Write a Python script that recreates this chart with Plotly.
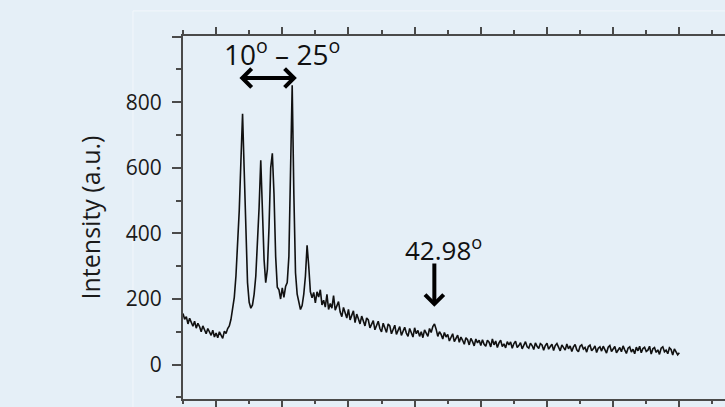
import plotly.graph_objects as go

# XRD intensity, 2-theta grid from 5 deg to 80 deg in 0.25 deg steps
intensity = [
    156, 138, 146, 124, 141, 130, 117, 132,   # 5.00 - 6.75
    111, 126, 116, 100, 118, 106, 94, 110,    # 7.00 - 8.75
    99, 89, 105, 84, 96, 82, 100, 90,         # 9.00 - 10.75
    80, 102, 95, 110, 118, 138, 170, 205,     # 11.00 - 12.75
    270, 360, 470, 620, 765, 590, 380, 250,   # 13.00 - 14.75
    190, 172, 182, 215, 270, 360, 480, 623,   # 15.00 - 16.75
    480, 320, 250, 290, 420, 600, 644, 520,   # 17.00 - 18.75
    330, 236, 228, 200, 234, 205, 238, 250,   # 19.00 - 20.75
    330, 560, 852, 520, 280, 215, 185, 168,   # 21.00 - 22.75
    180, 215, 270, 364, 300, 222, 204, 220,   # 23.00 - 24.75
    188, 222, 206, 228, 182, 196, 175, 214,   # 25.00 - 26.75
    168, 186, 172, 210, 166, 178, 192, 160,   # 27.00 - 28.75
    146, 174, 158, 142, 168, 136, 150, 164,   # 29.00 - 30.75
    128, 154, 140, 124, 148, 130, 118, 142,   # 31.00 - 32.75
    136, 112, 122, 134, 106, 120, 132, 110,   # 33.00 - 34.75
    100, 126, 112, 98, 124, 118, 94, 108,     # 35.00 - 36.75
    120, 92, 104, 116, 89, 100, 114, 96,      # 37.00 - 38.75
    86, 110, 98, 84, 112, 94, 104, 86,        # 39.00 - 40.75
    100, 82, 106, 94, 86, 110, 98, 116,       # 41.00 - 42.75
    124, 108, 86, 100, 92, 78, 98, 84,        # 43.00 - 44.75
    92, 72, 86, 94, 70, 80, 90, 68,           # 45.00 - 46.75
    84, 74, 62, 82, 76, 60, 80, 70,           # 47.00 - 48.75
    57, 78, 66, 74, 58,                       # 49.00 - 50.00
    76, 62, 56, 74, 68, 54, 78, 60,           # 50.25 - 52.00
    72, 52, 66, 74, 55, 63, 51, 70,           # 52.25 - 54.00
    60, 69, 50, 64, 71, 52, 58, 67,           # 54.25 - 56.00
    48, 62, 70, 54, 50, 65, 58, 46,           # 56.25 - 58.00
    66, 56, 49, 64, 60, 44, 58, 65,           # 58.25 - 60.00
    47, 55, 62, 43, 58, 64, 50, 42,           # 60.25 - 62.00
    60, 52, 44, 63, 48, 57, 40, 54,           # 62.25 - 64.00
    61, 45, 39, 56, 60, 47, 52, 38,           # 64.25 - 66.00
    55, 59, 42, 48, 57, 37, 50, 54,           # 66.25 - 68.00
    41, 56, 46, 35, 53, 58, 40, 47,           # 68.25 - 70.00
    55, 36, 44, 52, 39, 57, 45, 34,           # 70.25 - 72.00
    50, 54, 38, 47, 33, 53, 42, 56,           # 72.25 - 74.00
    36, 49, 53, 40, 44, 56, 32, 48,           # 74.25 - 76.00
    52, 37, 45, 31, 50, 54, 39, 44,           # 76.25 - 78.00
    33, 51, 46, 29, 48, 40, 30, 36,           # 78.25 - 80.00
]
two_theta = [5 + 0.25 * i for i in range(len(intensity))]

y_tick_vals = [0, 200, 400, 600, 800, 1000]
y_tick_text = ["0", "200", "400", "600", "800", ""]

range_label = "10<sup>o</sup> – 25<sup>o</sup>"
range_start, range_end = 13.3, 22.2
range_arrow_y = 874
peak_label = "42.98<sup>o</sup>"
peak_pos = 42.98

BG = "#e5eff7"
AX = "#4a4a4a"
FONT = "Open Sans"

fig = go.Figure()
fig.add_trace(go.Scatter(x=two_theta, y=intensity, mode="lines",
                         line=dict(color="#111111", width=1.6), showlegend=False,
                         hoverinfo="skip"))
fig.add_trace(go.Scatter(x=[two_theta[0]], y=[intensity[0]], xaxis="x2", mode="markers",
                         marker=dict(opacity=0), showlegend=False, hoverinfo="skip"))

xcommon = dict(range=[5, 86.9], showline=True, linecolor=AX, linewidth=2,
               ticks="outside", tickcolor=AX, tickwidth=2, dtick=10, tick0=0,
               showticklabels=False, showgrid=False, zeroline=False)

fig.update_layout(
    width=725, height=407,
    margin=dict(l=183, r=0, t=36, b=8),
    paper_bgcolor=BG, plot_bgcolor=BG,
    font=dict(family=FONT, color="#1a1a1a"),
    xaxis=dict(**xcommon, ticklen=6,
               minor=dict(dtick=5, tick0=0, ticklen=3, tickwidth=2, tickcolor=AX,
                          ticks="outside", showgrid=False)),
    xaxis2=dict(**xcommon, overlaying="x", side="top", ticklen=7,
                minor=dict(dtick=5, tick0=0, ticklen=4, tickwidth=2, tickcolor=AX,
                           ticks="outside", showgrid=False)),
    yaxis=dict(range=[-105, 1002], showline=True, linecolor=AX, linewidth=2,
               ticks="outside", tickcolor=AX, tickwidth=2, ticklen=9,
               tickvals=y_tick_vals, ticktext=y_tick_text,
               tickfont=dict(size=21, family=FONT, color="#1a1a1a"),
               ticklabelstandoff=6,
               minor=dict(dtick=100, tick0=0, ticklen=5, tickwidth=2, tickcolor=AX,
                          ticks="outside", showgrid=False),
               showgrid=False, zeroline=False,
               title=dict(text="Intensity (a.u.)", font=dict(size=25, family=FONT, color="#1a1a1a"),
                          standoff=18)),
    shapes=[dict(type="rect", xref="paper", yref="paper", x0=-0.0923, x1=1.2,
                 y0=-0.2, y1=1.069, line=dict(color="#f2f7fb", width=1), layer="below")],
    annotations=[
        dict(x=20, y=953, xref="x", yref="y", text=range_label, showarrow=False,
             font=dict(size=28, family=FONT, color="#111111")),
        dict(x=range_end, y=range_arrow_y, ax=range_start, ay=range_arrow_y,
             xref="x", yref="y", axref="x", ayref="y", text="", showarrow=True,
             arrowhead=4, startarrowhead=4, arrowside="end+start",
             arrowsize=0.9, startarrowsize=0.9, arrowwidth=4, arrowcolor="#000000",
             standoff=0, startstandoff=0),
        dict(x=44.37, y=352, xref="x", yref="y", text=peak_label, showarrow=False,
             font=dict(size=26, family=FONT, color="#111111")),
        dict(x=peak_pos, y=176, ax=peak_pos, ay=313, xref="x", yref="y",
             axref="x", ayref="y", text="", showarrow=True, arrowhead=4,
             arrowsize=0.9, arrowwidth=4, arrowcolor="#000000", standoff=0),
    ],
)

fig.write_html(
    "out.html",
    config={"displayModeBar": False},
    post_script="document.body.style.margin='0';document.body.style.background='#e5eff7';",
)
